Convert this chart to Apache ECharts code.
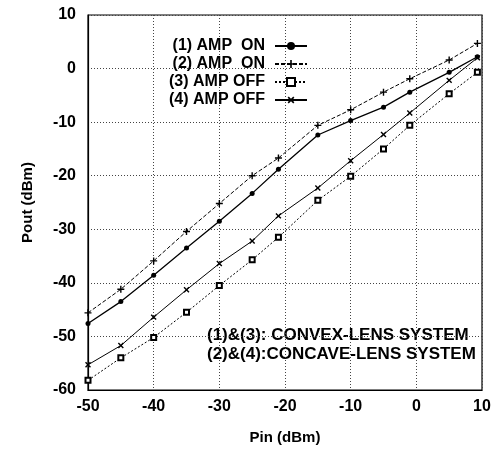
<!DOCTYPE html>
<html><head><meta charset="utf-8">
<script src="https://cdn.jsdelivr.net/npm/echarts@6/dist/echarts.min.js"></script>
<style>html,body{margin:0;padding:0;background:#fff}#c{width:494px;height:450px}</style>
</head><body><div id="c"></div>
<script>
const pin = [-50, -45, -40, -35, -30, -25, -21, -15, -10, -5, -1, 5, 9.3];
const amp1On  = [-47.6, -43.5, -38.6, -33.5, -28.5, -23.3, -18.8, -12.4, -9.7, -7.2, -4.4, -0.7, 2.2];
const amp2On  = [-45.6, -41.2, -35.9, -30.4, -25.2, -20.0, -16.7, -10.6, -7.7, -4.4, -1.9, 1.6, 4.7];
const amp3Off = [-58.2, -54.0, -50.2, -45.5, -40.5, -35.7, -31.5, -24.6, -20.1, -15.0, -10.6, -4.7, -0.7];
const amp4Off = [-55.3, -51.7, -46.4, -41.3, -36.4, -32.2, -27.5, -22.3, -17.2, -12.3, -8.3, -2.2, 2.0];
const seriesNames = ['(1) AMP  ON', '(2) AMP  ON', '(3) AMP OFF', '(4) AMP OFF'];
const notes = ['(1)&(3): CONVEX-LENS SYSTEM', '(2)&(4):CONCAVE-LENS SYSTEM'];

const pair = ys => pin.map((x, i) => [x, ys[i]]);
const FONT = 'Liberation Sans, Arial, Helvetica, sans-serif';
const plus = 'path://M4,0h2v4h4v2h-4v4h-2v-4h-4v-2h4z';

const chart = echarts.init(document.getElementById('c'));
chart.setOption({
  animation: false,
  backgroundColor: '#fff',
  textStyle: { fontFamily: FONT },
  grid: { left: 88, right: 12, top: 15, bottom: 60, show: true, borderColor: '#000', borderWidth: 1.2 },
  legend: {
    orient: 'vertical', right: 181, top: 33, align: 'right',
    itemWidth: 32, itemHeight: 10, itemGap: 2,
    textStyle: { fontFamily: FONT, fontWeight: 'bold', fontSize: 16, color: '#000', lineHeight: 15, padding: [0, 5, 0, 0] },
    data: seriesNames
  },
  xAxis: {
    type: 'value', min: -50, max: 10, interval: 10,
    name: 'Pin (dBm)', nameLocation: 'middle', nameGap: 40,
    nameTextStyle: { fontFamily: FONT, fontWeight: 'bold', fontSize: 15, color: '#000' },
    axisLine: { onZero: false, lineStyle: { color: '#000', width: 1.2 } }, axisTick: { show: false },
    axisLabel: { fontFamily: FONT, fontWeight: 'bold', fontSize: 16, color: '#000', margin: 9 },
    splitLine: { lineStyle: { color: '#444', type: [1, 2], width: 1 } }
  },
  yAxis: {
    type: 'value', min: -60, max: 10, interval: 10,
    name: 'Pout (dBm)', nameLocation: 'middle', nameGap: 53, nameRotate: 90,
    nameTextStyle: { fontFamily: FONT, fontWeight: 'bold', fontSize: 15, color: '#000' },
    axisLine: { onZero: false, lineStyle: { color: '#000', width: 1.2 } }, axisTick: { show: false },
    axisLabel: { fontFamily: FONT, fontWeight: 'bold', fontSize: 16, color: '#000', margin: 12 },
    splitLine: { lineStyle: { color: '#444', type: [1, 2], width: 1 } }
  },
  series: [
    { name: seriesNames[0], type: 'line', data: pair(amp1On), symbol: 'circle', symbolSize: 5,
      itemStyle: { color: '#000' }, lineStyle: { color: '#000', width: 1.3, type: 'solid' } },
    { name: seriesNames[1], type: 'line', data: pair(amp2On), symbol: plus, symbolSize: 7,
      itemStyle: { color: '#000' }, lineStyle: { color: '#000', width: 1, type: [4, 2] } },
    { name: seriesNames[2], type: 'line', data: pair(amp3Off), symbol: 'emptyRect', symbolSize: 5,
      itemStyle: { color: '#000', borderColor: '#000', borderWidth: 1 }, lineStyle: { color: '#000', width: 1, type: [2, 2] } },
    { name: seriesNames[3], type: 'line', data: pair(amp4Off), symbol: plus, symbolSize: 7, symbolRotate: 45,
      itemStyle: { color: '#000' }, lineStyle: { color: '#000', width: 1, type: 'solid' } }
  ],
  graphic: [
    { type: 'text', left: 207, top: 327, style: { text: notes[0], font: 'bold 17px ' + FONT, fill: '#000' } },
    { type: 'text', left: 207, top: 346, style: { text: notes[1], font: 'bold 17px ' + FONT, fill: '#000' } }
  ]
});
</script></body></html>
